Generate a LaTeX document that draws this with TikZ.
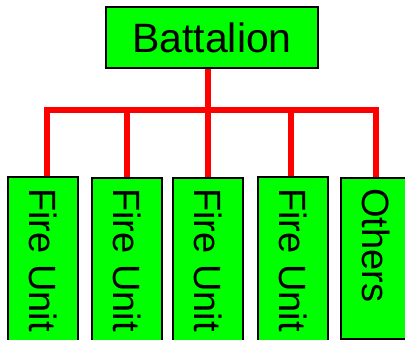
\documentclass[tikz,border=0pt]{standalone}
\usepackage{fontspec}
\setmainfont{Liberation Sans}
\usetikzlibrary{calc}
\begin{document}
\begin{tikzpicture}[x=1pt,y=-1pt,
  orgbox/.style={draw=black, line width=1.5pt, fill=green, inner sep=0pt},
  unitbox/.style={orgbox, minimum width=70pt, minimum height=180pt, anchor=north},
  unitlabel/.style={rotate=-90, anchor=west, inner sep=0pt, font=\fontsize{38}{38}\selectfont},
  bus/.style={draw=red, line width=6pt, line join=miter, line cap=butt}]
  \useasboundingbox (0,0) rectangle (405,340);
  \clip (0,0) rectangle (405,340);
  \fill[white] (0,0) rectangle (405,340);

  % connector junctions on the horizontal bus
  \coordinate (j1) at (46.5,110);
  \coordinate (j2) at (127,110);
  \coordinate (j3) at (208,110);
  \coordinate (j4) at (291,110);
  \coordinate (j5) at (376,110);

  % top unit
  \node[orgbox, minimum width=212pt, minimum height=61pt,
        font=\fontsize{41}{41}\selectfont] (bat) at (212,37.5) {Battalion};

  % subordinate units
  \node[unitbox] (u1) at (43,176) {};
  \node[unitbox] (u2) at (127,177) {};
  \node[unitbox] (u3) at (208,177) {};
  \node[unitbox] (u4) at (293,176) {};
  \node[unitbox, minimum height=161pt] (u5) at (376,177) {};

  \node[unitlabel] (t1) at (43,188) {Fire Unit};
  \node[unitlabel] (t2) at (127,188) {Fire Unit};
  \node[unitlabel] (t3) at (208,188) {Fire Unit};
  \node[unitlabel] (t4) at (293,188) {Fire Unit};
  \node[unitlabel] (t5) at (376,188) {Others};

  % red connectors
  \draw[bus] (bat.south -| j3) -- (j3);
  \draw[bus] (j1 |- u1.north) -- (j1) -- (j5) -- (u5.north);
  \draw[bus] (j2) -- (u2.north);
  \draw[bus] (j3) -- (u3.north);
  \draw[bus] (j4) -- (j4 |- u4.north);
\end{tikzpicture}
\end{document}
